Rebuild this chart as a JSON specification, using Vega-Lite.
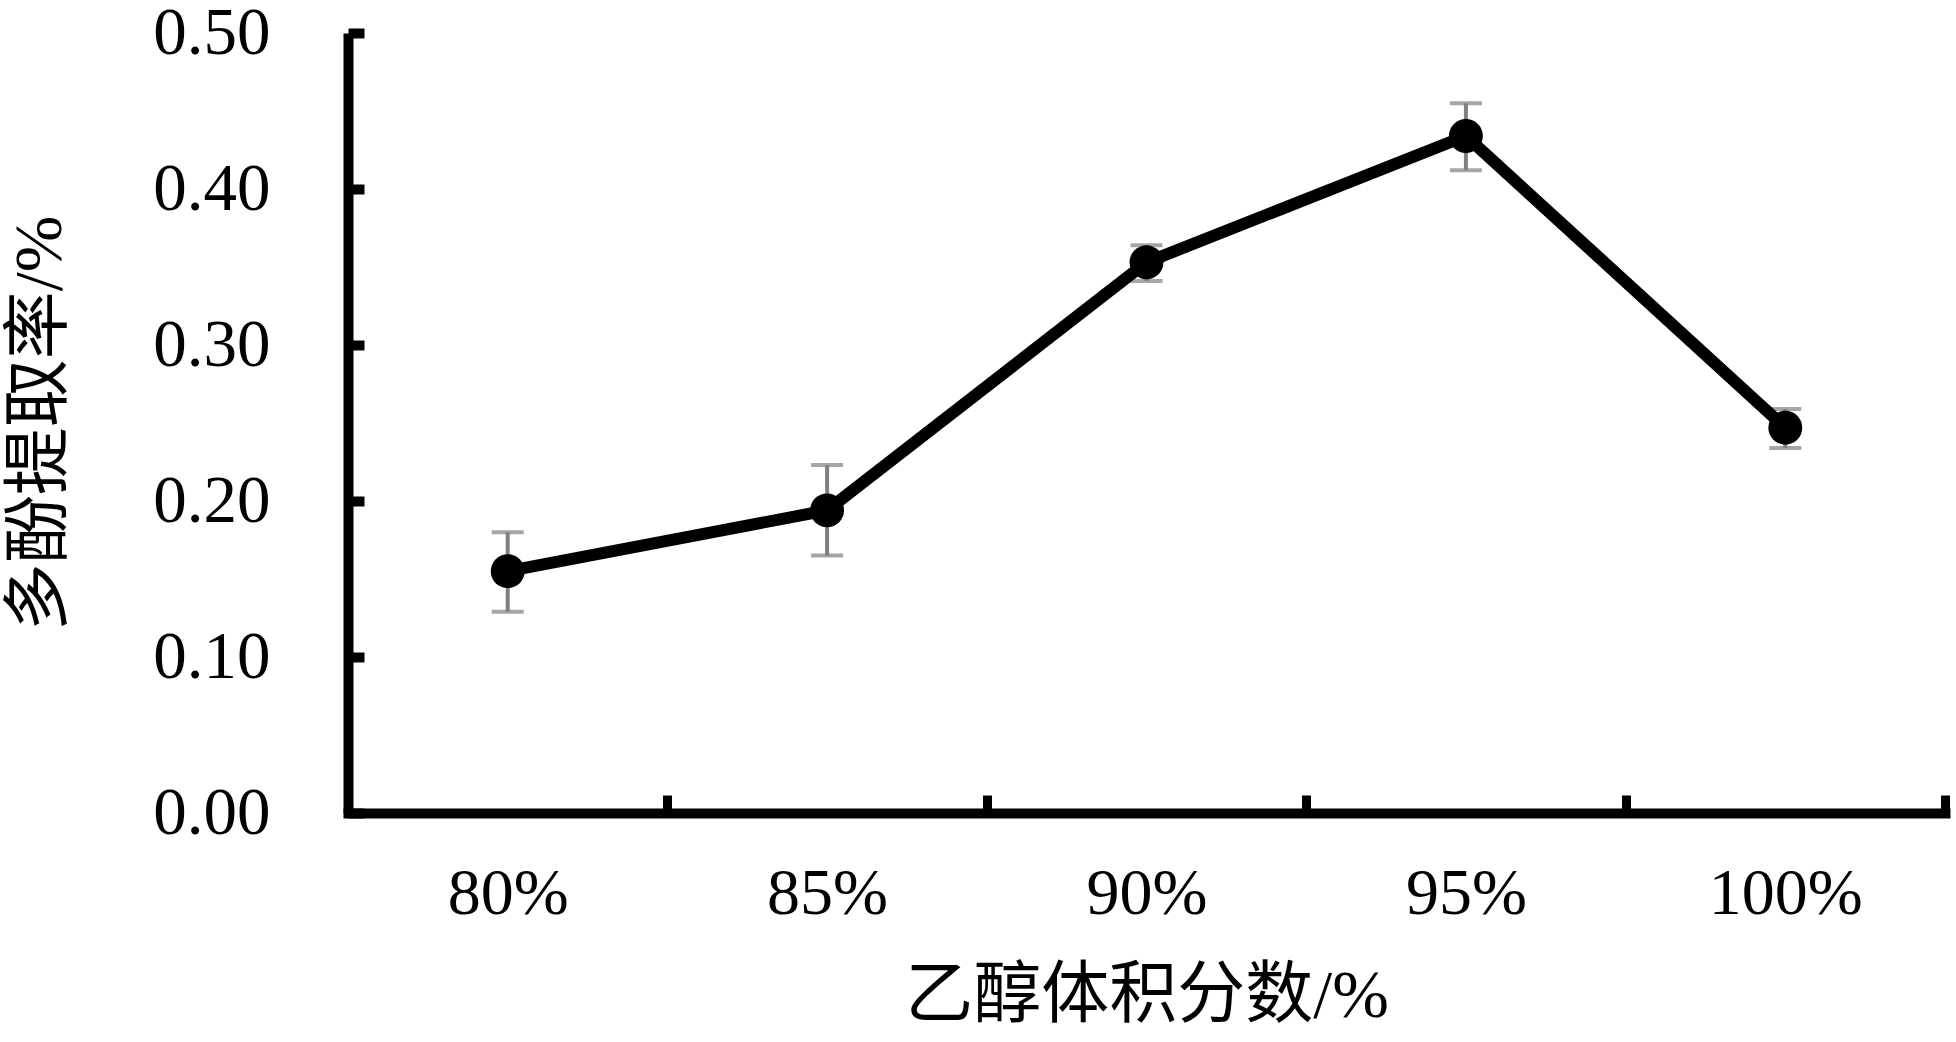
{
  "$schema": "https://vega.github.io/schema/vega-lite/v6.json",
  "width": 1597,
  "height": 780,
  "padding": {"left": 348, "top": 33, "right": 11, "bottom": 229},
  "autosize": {"type": "none"},
  "background": "white",
  "config": {
    "view": {"stroke": null},
    "font": "Liberation Serif"
  },
  "data": {
    "values": [
      {"c": "80%", "v": 0.155, "lo": 0.129, "hi": 0.180},
      {"c": "85%", "v": 0.194, "lo": 0.165, "hi": 0.223},
      {"c": "90%", "v": 0.353, "lo": 0.341, "hi": 0.364},
      {"c": "95%", "v": 0.434, "lo": 0.412, "hi": 0.455},
      {"c": "100%", "v": 0.247, "lo": 0.234, "hi": 0.259}
    ]
  },
  "encoding": {
    "x": {
      "field": "c", "type": "nominal", "sort": null,
      "scale": {"paddingInner": 0, "paddingOuter": 0},
      "axis": {
        "title": "乙醇体积分数/%",
        "titleFont": "Liberation Serif, Noto Sans CJK SC",
        "titleFontSize": 68, "titleFontWeight": "normal", "titleColor": "black",
        "titlePadding": 36,
        "labelAngle": 0, "labelFontSize": 66, "labelColor": "black",
        "labelFont": "Liberation Serif",
        "labelPadding": 66,
        "tickBand": "extent",
        "tickSize": -18, "tickWidth": 9, "tickColor": "black",
        "domainWidth": 10, "domainColor": "black", "domainCap": "square"
      }
    }
  },
  "layer": [
    {
      "mark": {"type": "rule", "color": "#808080", "strokeWidth": 4},
      "encoding": {
        "y": {"field": "lo", "type": "quantitative"},
        "y2": {"field": "hi"}
      }
    },
    {
      "mark": {"type": "tick", "color": "#808080", "thickness": 4, "size": 32, "orient": "horizontal"},
      "encoding": {"y": {"field": "lo", "type": "quantitative"}}
    },
    {
      "mark": {"type": "tick", "color": "#808080", "thickness": 4, "size": 32, "orient": "horizontal"},
      "encoding": {"y": {"field": "hi", "type": "quantitative"}}
    },
    {
      "mark": {"type": "line", "color": "black", "strokeWidth": 12},
      "encoding": {
        "y": {
          "field": "v", "type": "quantitative",
          "scale": {"domain": [0, 0.5], "nice": false, "zero": true},
          "axis": {
            "title": "多酚提取率/%",
            "titleFont": "Liberation Serif, Noto Sans CJK SC",
            "titleFontSize": 68, "titleFontWeight": "normal", "titleColor": "black",
            "titlePadding": 78,
            "values": [0, 0.1, 0.2, 0.3, 0.4, 0.5],
            "format": ".2f",
            "labelFontSize": 67, "labelColor": "black",
            "labelFont": "Liberation Serif",
            "labelPadding": 94,
            "tickSize": -16, "tickWidth": 10, "tickColor": "black",
            "domainWidth": 10, "domainColor": "black",
            "grid": false
          }
        }
      }
    },
    {
      "mark": {"type": "point", "filled": true, "color": "black", "size": 1150, "opacity": 1},
      "encoding": {"y": {"field": "v", "type": "quantitative"}}
    }
  ]
}
